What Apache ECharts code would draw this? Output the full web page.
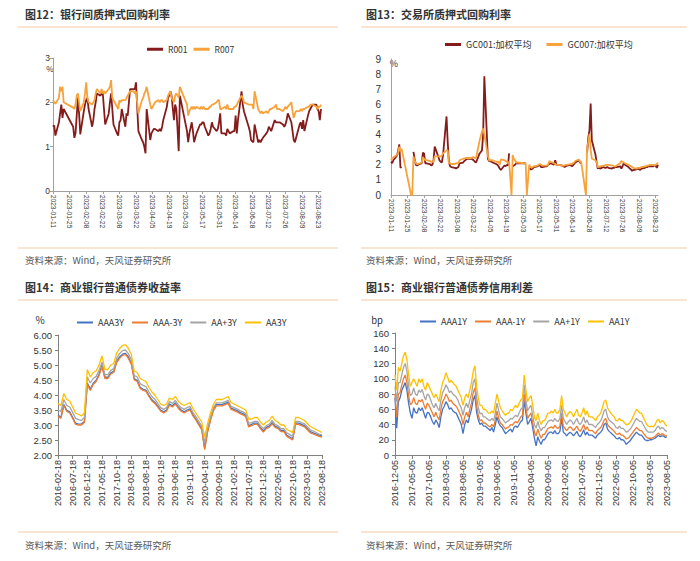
<!DOCTYPE html>
<html><head><meta charset="utf-8">
<script src="https://cdn.jsdelivr.net/npm/echarts@6/dist/echarts.min.js"></script>
<style>html,body{margin:0;padding:0;background:#fff}#c{width:700px;height:561px}</style>
</head><body><div id="c"></div>
<script>
// ---------- categories ----------
const holidays = ['2023-01-23','2023-01-24','2023-01-25','2023-01-26','2023-01-27','2023-04-05','2023-05-01','2023-05-02','2023-05-03','2023-06-22','2023-06-23'];
const makeupDays = ['2023-01-28','2023-01-29','2023-04-23','2023-05-06','2023-06-25'];
const repoStart = '2023-01-11', repoEnd = '2023-08-25';
const yieldStart = [2016, 2], yieldEnd = [2023, 8];      // monthly, day 18
const spreadStart = [2016, 12], spreadEnd = [2023, 8];   // semi-monthly, days 5 & 20

// ---------- chart 12 ----------
const r001 = [1.45,1.48,1.25,1.55,1.75,1.95,1.65,1.85,
1.45,1.2,1.3,1.7,2.1,1.75,1.28,
1.8,1.95,2.05,2.1,1.85,
1.45,1.6,1.85,2.0,2.2,
2.15,2.2,2.2,1.85,1.5,
1.75,2.0,2.2,1.85,1.5,
1.3,1.25,1.55,1.6,1.85,
1.45,1.75,1.7,2.0,2.3,
2.3,2.3,2.45,1.9,1.35,
1.15,1.1,1.0,0.85,1.85,
1.15,1.3,1.4,1.4,
1.35,1.4,1.35,1.45,1.6,
1.9,2.1,2.15,2.25,2.15,
1.6,1.95,1.85,1.4,0.9,2.15,
1.35,1.1,1.3,1.55,1.35,1.1,1.2,1.3,
1.5,1.5,1.55,1.55,1.45,
1.25,1.3,1.4,1.55,1.45,
1.35,1.4,1.55,1.75,1.3,
1.3,1.25,1.4,1.35,1.3,
1.35,1.35,1.7,1.3,1.6,
2.25,1.95,1.8,
1.45,1.35,1.15,1.12,1.1,1.5,
1.1,1.15,1.1,1.15,1.2,
1.3,1.35,1.45,1.4,1.35,
1.6,1.55,1.55,1.55,1.55,
1.5,1.45,1.5,1.6,1.75,
1.55,1.35,1.15,1.1,1.2,
1.5,1.55,1.4,1.6,1.35,
1.7,1.8,1.85,1.9,1.95,
1.95,1.85,1.8,1.6,1.85];
const r007 = [2.05,2.0,1.97,2.1,2.35,2.25,2.35,2.0,
1.88,1.85,1.95,2.15,2.2,2.0,1.8,
2.0,2.2,2.45,2.1,2.0,
1.95,2.0,2.05,2.2,2.3,
2.2,2.3,2.2,2.25,2.2,
2.3,2.35,2.5,2.1,2.05,
1.9,1.85,2.05,2.0,2.05,
2.05,2.1,2.15,2.2,2.25,
2.25,2.2,2.25,2.0,1.75,
2.05,2.1,2.2,2.25,2.35,
1.95,1.85,1.95,2.0,
2.05,2.0,2.05,2.05,2.0,
2.05,2.15,2.2,2.25,2.1,
2.0,2.15,2.2,2.15,2.1,2.35,
1.95,1.7,1.8,1.9,1.85,1.9,1.85,1.9,
1.85,1.9,1.85,1.9,1.85,
1.85,1.9,1.9,1.95,1.95,
2.0,2.05,2.05,1.85,1.85,
1.9,1.85,1.95,1.85,1.85,
1.85,1.9,1.9,1.95,2.0,
2.15,2.1,2.0,
1.95,1.95,1.95,1.95,1.85,2.25,
1.85,1.8,1.75,1.8,1.75,
1.8,1.75,1.8,1.85,1.85,
1.9,1.95,1.85,1.85,1.85,
1.8,1.85,1.9,1.85,1.9,
2.0,1.8,1.65,1.75,1.8,
1.8,1.85,1.8,1.85,1.85,
1.9,1.9,1.95,1.95,1.95,
1.9,1.85,1.9,1.9,1.95];

// ---------- chart 13 ----------
const gc001 = [2.2,2.1,2.3,2.6,2.9,3.35,1.8,1.85,
null,null,2.85,2.4,2.0,1.95,2.0,
2.1,2.8,2.75,2.1,2.1,
2.05,1.95,2.0,2.3,3.2,
2.55,2.3,2.2,2.15,2.6,
5.2,3.5,2.2,1.9,1.85,
1.8,1.75,1.8,1.85,2.1,
2.15,2.25,2.3,2.4,2.4,
2.4,2.35,2.3,2.2,2.15,
2.75,2.85,2.95,4.0,7.85,
2.4,2.25,2.2,2.15,
2.05,2.0,1.9,1.75,1.65,
1.95,1.9,2.0,1.95,2.75,
null,1.9,1.95,2.0,2.1,2.1,
2.1,2.1,null,1.9,1.7,1.7,1.75,1.85,
1.9,1.95,2.0,1.85,1.85,
1.9,1.9,2.0,2.05,2.1,
2.0,2.3,2.0,2.0,2.0,
1.95,1.9,1.85,1.9,1.95,
2.0,1.9,1.95,2.05,2.15,
2.3,2.15,2.1,
null,2.8,3.8,4.3,6.05,3.6,
2.7,2.2,1.75,1.8,1.75,
1.85,1.8,1.8,1.85,1.8,
1.75,1.8,1.8,1.85,1.85,
1.9,1.75,1.9,2.1,2.0,
1.85,1.75,1.7,1.6,1.65,
1.7,1.75,1.7,1.65,1.75,
1.8,1.85,1.85,1.9,1.9,
1.9,1.95,1.95,1.8,2.0];
const gc007 = [2.3,2.4,2.5,2.65,2.75,3.2,2.9,3.05,
0,0,2.55,2.3,2.1,2.05,2.05,
2.15,2.5,2.4,2.3,2.3,
2.25,2.2,2.2,2.2,2.55,
2.55,2.55,2.55,2.6,2.75,
2.95,2.95,2.1,2.1,2.05,
2.05,2.1,2.1,2.1,2.3,
2.4,2.4,2.45,2.45,2.45,
2.45,2.5,2.5,2.45,2.45,
3.6,3.9,4.2,4.4,4.0,
2.6,2.3,2.3,2.3,
2.2,2.2,2.2,2.0,2.35,
2.3,2.25,2.2,2.1,2.2,
0,2.65,2.4,2.3,2.15,2.15,
2.1,2.1,0,2.0,1.85,1.8,1.85,1.9,
1.95,2.0,2.05,2.0,1.95,
1.95,1.95,2.0,2.25,2.2,
2.1,2.05,2.0,2.0,2.0,
1.95,1.95,1.95,2.0,2.0,
2.05,2.05,2.1,2.15,2.25,
2.35,2.2,2.2,
0,3.2,3.5,4.05,3.0,2.4,
2.3,2.2,1.85,1.85,1.9,
1.95,1.95,2.0,2.0,2.0,
1.95,1.95,1.9,1.9,1.95,
2.1,2.25,2.2,2.15,2.1,
2.0,1.95,1.9,1.85,1.8,
1.75,1.8,1.8,1.8,1.85,
1.9,1.9,1.95,1.95,2.0,
2.0,1.95,2.0,2.05,2.15];

// ---------- chart 14 (monthly) ----------
const aa3y = [3.72,3.65,4.05,3.85,3.8,3.6,3.4,3.35,3.3,3.4,4.85,4.6,4.75,4.8,5.0,5.3,4.85,4.85,5.0,5.05,5.4,5.55,5.65,5.68,5.55,5.35,4.8,4.75,4.55,4.5,4.45,4.25,4.1,4.0,3.85,3.7,3.65,3.7,3.9,3.85,3.95,3.8,3.7,3.65,3.7,3.75,3.55,3.4,3.25,3.1,2.6,3.05,3.4,3.7,3.85,3.85,3.85,3.9,3.95,3.75,3.7,3.65,3.6,3.55,3.5,3.2,3.2,3.25,3.25,3.1,3.0,3.1,3.15,3.3,3.15,3.1,3.0,3.0,2.85,2.8,2.75,3.25,3.25,3.2,3.15,3.05,2.95,2.9,2.85,2.8,2.75];
const aap3y = [3.5,3.45,3.85,3.65,3.6,3.42,3.22,3.18,3.15,3.25,4.6,4.4,4.55,4.62,4.82,5.1,4.68,4.68,4.82,4.88,5.22,5.38,5.48,5.5,5.38,5.18,4.65,4.6,4.38,4.32,4.28,4.1,3.95,3.86,3.72,3.58,3.52,3.58,3.78,3.72,3.82,3.68,3.58,3.52,3.58,3.62,3.42,3.28,3.12,2.96,2.4,2.9,3.28,3.58,3.74,3.74,3.74,3.78,3.82,3.62,3.58,3.54,3.48,3.44,3.38,3.06,3.08,3.12,3.12,2.98,2.88,2.98,3.02,3.15,3.02,2.98,2.88,2.88,2.74,2.68,2.62,3.12,3.12,3.08,3.04,2.94,2.84,2.8,2.75,2.7,2.67];
const aaam3y = [3.3,3.22,3.65,3.45,3.4,3.22,3.02,3.0,3.0,3.08,4.35,4.15,4.35,4.45,4.65,4.95,4.55,4.55,4.7,4.75,5.08,5.22,5.32,5.35,5.22,5.02,4.5,4.45,4.22,4.15,4.12,3.95,3.8,3.72,3.6,3.46,3.4,3.46,3.66,3.6,3.7,3.56,3.46,3.4,3.46,3.5,3.3,3.16,3.0,2.84,2.18,2.76,3.16,3.48,3.64,3.64,3.64,3.68,3.72,3.52,3.48,3.44,3.38,3.34,3.28,2.94,2.98,3.02,3.02,2.88,2.76,2.88,2.92,3.04,2.92,2.88,2.78,2.78,2.62,2.56,2.5,3.02,3.02,2.98,2.94,2.84,2.74,2.7,2.66,2.62,2.6];
const aaa3y = [3.33,3.26,3.68,3.49,3.44,3.26,3.06,3.03,3.04,3.12,4.4,4.2,4.39,4.49,4.69,4.99,4.6,4.59,4.74,4.79,5.12,5.27,5.36,5.39,5.27,5.06,4.54,4.49,4.26,4.19,4.16,3.99,3.84,3.76,3.64,3.5,3.44,3.5,3.7,3.64,3.74,3.6,3.5,3.44,3.5,3.54,3.34,3.2,3.04,2.88,2.22,2.8,3.2,3.52,3.68,3.68,3.68,3.72,3.76,3.56,3.52,3.48,3.42,3.38,3.32,2.98,3.02,3.06,3.06,2.92,2.8,2.92,2.96,3.08,2.96,2.92,2.82,2.82,2.66,2.6,2.54,3.06,3.06,3.02,2.98,2.88,2.78,2.74,2.7,2.66,2.64];

// ---------- chart 15 (semi-monthly, bp) ----------
const aa1y = [105,85,115,110,120,130,135,125,105,90,95,100,95,90,100,95,100,90,85,95,90,85,80,75,80,75,70,85,95,100,108,102,95,98,95,92,90,85,80,75,65,75,80,75,85,95,110,117,90,75,65,65,60,60,58,55,55,58,55,68,80,70,62,58,55,52,55,55,60,58,62,65,62,68,72,75,105,85,70,75,78,65,50,45,55,45,40,45,45,50,55,55,58,55,60,55,55,60,78,60,55,50,55,57,55,50,55,60,52,50,55,62,52,58,50,50,50,48,45,50,52,55,62,70,72,62,58,55,52,50,45,45,48,45,45,42,40,40,42,45,50,55,60,58,55,55,50,45,40,38,37,38,37,40,45,47,42,45,44,40,38];
const aap1y = [90,70,95,95,105,115,120,110,90,78,80,88,80,78,85,82,86,78,72,80,78,72,66,62,68,62,58,72,82,86,92,88,82,84,80,78,76,72,66,62,52,62,68,62,72,80,95,100,76,62,54,55,50,50,48,46,45,48,45,55,68,58,50,48,45,42,44,45,48,47,50,52,50,55,60,62,92,72,58,62,65,52,40,35,44,36,32,36,36,40,44,45,46,44,48,45,44,48,65,48,44,40,44,46,44,40,44,48,42,40,44,50,42,46,40,40,40,38,36,40,42,45,50,58,60,50,46,44,42,40,36,35,38,35,35,33,30,31,33,36,40,44,48,46,44,44,40,36,32,30,30,30,30,32,36,38,34,36,35,32,31];
const aaam1y = [80,50,80,82,92,100,105,95,78,66,68,75,68,66,72,70,73,66,60,68,65,60,55,50,56,50,46,60,70,74,80,76,70,72,68,66,64,60,55,50,40,50,56,50,60,68,82,88,64,52,45,46,42,42,40,38,37,40,37,46,58,48,42,40,37,34,36,37,40,39,42,44,42,46,50,52,80,62,48,52,55,42,30,25,34,27,22,27,27,31,35,36,37,35,39,36,35,38,55,38,35,32,35,37,35,32,35,38,33,31,35,40,33,37,32,32,32,30,28,32,34,36,40,46,48,40,37,35,33,31,28,27,29,26,26,24,21,22,24,27,30,33,36,34,32,32,29,26,23,22,22,22,23,24,27,29,26,28,27,25,25];
const aaa1y = [75,35,70,75,85,90,95,85,68,55,48,62,56,55,62,58,62,55,48,56,55,50,44,40,46,42,36,50,60,64,70,66,60,62,58,56,55,50,45,40,28,40,46,42,52,60,72,78,56,46,40,42,38,38,36,34,32,36,30,40,50,42,38,36,32,28,30,32,34,30,36,38,36,40,44,46,72,55,40,44,48,36,22,12,24,18,14,20,20,24,28,30,30,28,32,28,28,31,48,30,28,25,28,30,28,25,28,31,26,24,28,33,26,30,26,26,26,24,22,26,28,30,33,40,42,34,31,29,27,25,22,21,23,20,20,18,14,16,18,21,24,27,30,28,26,26,23,20,19,19,20,20,21,22,24,26,24,25,25,23,24];

// ---------- build categories ----------
const DAY = 86400000;
const pad = n => String(n).padStart(2, '0');
const ymd = t => { const d = new Date(t); return d.getUTCFullYear() + '-' + pad(d.getUTCMonth() + 1) + '-' + pad(d.getUTCDate()); };
const t0 = Date.parse(repoStart + 'T00:00:00Z');
const tradeDates = [];
for (let t = t0; t <= Date.parse(repoEnd + 'T00:00:00Z'); t += DAY) {
  const s = ymd(t), wd = new Date(t).getUTCDay();
  if ((wd > 0 && wd < 6 && holidays.indexOf(s) < 0) || makeupDays.indexOf(s) >= 0) tradeDates.push(s);
}
const dayOff = tradeDates.map(s => Math.round((Date.parse(s + 'T00:00:00Z') - t0) / DAY));
const pairs = arr => dayOff.map((d, i) => [d, (arr[i] === null || arr[i] === undefined) ? '-' : arr[i]]);

const monthly = [];
for (let y = yieldStart[0], m = yieldStart[1]; ; m++) {
  if (m > 12) { m = 1; y++; }
  monthly.push(y + '-' + pad(m) + '-18');
  if (y === yieldEnd[0] && m === yieldEnd[1]) break;
}
const semi = [];
for (let y = spreadStart[0], m = spreadStart[1]; ; m++) {
  if (m > 12) { m = 1; y++; }
  semi.push(y + '-' + pad(m) + '-05');
  if (y === spreadEnd[0] && m === spreadEnd[1]) break;
  semi.push(y + '-' + pad(m) + '-20');
}

// ---------- styling ----------
const FONT = '"Liberation Sans", Arial, "Noto Sans CJK SC", sans-serif';
const CJK = '"Noto Sans CJK SC", "Liberation Sans", sans-serif';
const C_RED = '#851c1c', C_ORG = '#f7a23b';
const C_BLUE = '#4472c4', C_OR2 = '#ed7d31', C_GRAY = '#a5a5a5', C_YEL = '#ffc000';
const SEP = '#f8dcc5';

function repoX(idx) {
  return {
    type: 'value', gridIndex: idx, min: 0, max: 226, interval: 14,
    axisLine: { show: true, lineStyle: { color: '#a0a0a0', width: 1 } },
    axisTick: { show: true, length: 3, lineStyle: { color: '#a0a0a0' } },
    splitLine: { show: false },
    axisLabel: { rotate: -90, fontSize: 6.5, color: '#333', margin: 4, fontFamily: FONT, showMaxLabel: false,
      formatter: v => (v % 14 === 0 ? ymd(t0 + v * DAY) : '') }
  };
}
function catX(idx, data, interval) {
  return {
    type: 'category', gridIndex: idx, data: data, boundaryGap: false,
    axisLine: { show: true, lineStyle: { color: '#808080', width: 1 } },
    axisTick: { show: true, interval: interval, length: 4, lineStyle: { color: '#808080' } },
    splitLine: { show: false },
    axisLabel: { rotate: 90, interval: interval, fontSize: 9, color: '#333', margin: 5, fontFamily: FONT }
  };
}
function valY(idx, min, max, interval, opts) {
  return {
    type: 'value', gridIndex: idx, min: min, max: max, interval: interval,
    axisLine: { show: true, lineStyle: { color: opts.axisColor, width: 1 } },
    axisTick: { show: opts.tick, length: 3, lineStyle: { color: opts.axisColor } },
    splitLine: { show: false },
    axisLabel: { fontSize: opts.fontSize, color: '#333', margin: opts.margin, fontFamily: FONT, formatter: opts.fmt }
  };
}
function line(name, color, data, xi, width) {
  return { type: 'line', name: name, xAxisIndex: xi, yAxisIndex: xi, data: data, showSymbol: false, symbol: 'none',
    lineStyle: { color: color, width: width }, itemStyle: { color: color }, animation: false, silent: true };
}
function legend(names, left, top, fs, gap, ih) {
  return { data: names, left: left, top: top, icon: 'rect', itemWidth: 16, itemHeight: ih, itemGap: gap, padding: 0,
    textStyle: { fontSize: fs, color: '#333', fontFamily: CJK } };
}
function ttl(text, left, top) {
  return { text: text, left: left, top: top, padding: 0,
    textStyle: { fontSize: 11, fontWeight: 'bold', color: '#333', fontFamily: CJK } };
}
function hline(x1, x2, y) {
  return { type: 'line', shape: { x1: x1, y1: y, x2: x2, y2: y }, style: { stroke: SEP, lineWidth: 1.5 }, silent: true };
}
function txt(t, x, y, fs, color, align) {
  return { type: 'text', x: x, y: y, silent: true,
    style: { text: t, fill: color, fontSize: fs, fontFamily: CJK, align: align || 'left', verticalAlign: 'middle',
      textAlign: align || 'left', textVerticalAlign: 'middle' } };
}
const SRC = '资料来源：Wind，天风证券研究所';

const chart = echarts.init(document.getElementById('c'), null, { renderer: 'svg', width: 700, height: 561 });
chart.setOption({
  animation: false,
  backgroundColor: '#fff',
  title: [
    ttl('图12：银行间质押式回购利率', 25, 8),
    ttl('图13：交易所质押式回购利率', 366, 8),
    ttl('图14：商业银行普通债券收益率', 25, 281),
    ttl('图15：商业银行普通债券信用利差', 366, 281)
  ],
  legend: [
    legend(['R001', 'R007'], 147, 45, 8.5, 6, 3),
    legend(['GC001:加权平均', 'GC007:加权平均'], 445, 40, 9, 15, 3),
    legend(['AAA3Y', 'AAA-3Y', 'AA+3Y', 'AA3Y'], 77, 318, 9, 8, 2),
    legend(['AAA1Y', 'AAA-1Y', 'AA+1Y', 'AA1Y'], 420, 317, 9, 8, 2)
  ],
  grid: [
    { left: 53, top: 58, width: 268, height: 133, outerBoundsMode: 'none' },
    { left: 391, top: 59, width: 267, height: 136, outerBoundsMode: 'none' },
    { left: 58, top: 335, width: 264, height: 120, outerBoundsMode: 'none' },
    { left: 395, top: 333, width: 272, height: 122, outerBoundsMode: 'none' }
  ],
  xAxis: [repoX(0), repoX(1), catX(2, monthly, 4), catX(3, semi, 9)],
  yAxis: [
    valY(0, 0, 3, 1, { axisColor: '#a0a0a0', tick: true, fontSize: 8.5, margin: 3 }),
    valY(1, 0, 9, 1, { axisColor: '#a0a0a0', tick: false, fontSize: 10, margin: 10 }),
    valY(2, 2, 6, 0.5, { axisColor: '#808080', tick: true, fontSize: 9.5, margin: 6, fmt: v => v.toFixed(2) }),
    valY(3, 0, 160, 20, { axisColor: '#808080', tick: true, fontSize: 9.5, margin: 6 })
  ],
  series: [
    line('R001', C_RED, pairs(r001), 0, 1.8),
    line('R007', C_ORG, pairs(r007), 0, 1.8),
    line('GC001:加权平均', C_RED, pairs(gc001), 1, 1.8),
    line('GC007:加权平均', C_ORG, pairs(gc007), 1, 1.8),
    line('AAA3Y', C_BLUE, aaa3y, 2, 1.3),
    line('AAA-3Y', C_OR2, aaam3y, 2, 1.3),
    line('AA+3Y', C_GRAY, aap3y, 2, 1.3),
    line('AA3Y', C_YEL, aa3y, 2, 1.3),
    line('AAA1Y', C_BLUE, aaa1y, 3, 1.3),
    line('AAA-1Y', C_OR2, aaam1y, 3, 1.3),
    line('AA+1Y', C_GRAY, aap1y, 3, 1.3),
    line('AA1Y', C_YEL, aa1y, 3, 1.3)
  ],
  graphic: [
    hline(18, 338, 27), hline(361, 687, 27),
    hline(18, 338, 248), hline(361, 687, 248),
    hline(18, 338, 300), hline(361, 687, 300),
    hline(18, 338, 532), hline(361, 687, 532),
    txt(SRC, 25, 260, 9.5, '#595959'), txt(SRC, 366, 260, 9.5, '#595959'),
    txt(SRC, 25, 545, 9.5, '#595959'), txt(SRC, 366, 545, 9.5, '#595959'),
    txt('%', 50, 68, 8, '#333', 'center'),
    txt('%', 394, 63, 9, '#333', 'center'),
    txt('%', 40, 319, 10, '#333', 'center'),
    txt('bp', 377, 320, 9.5, '#333', 'center')
  ]
});
</script>
</body></html>
